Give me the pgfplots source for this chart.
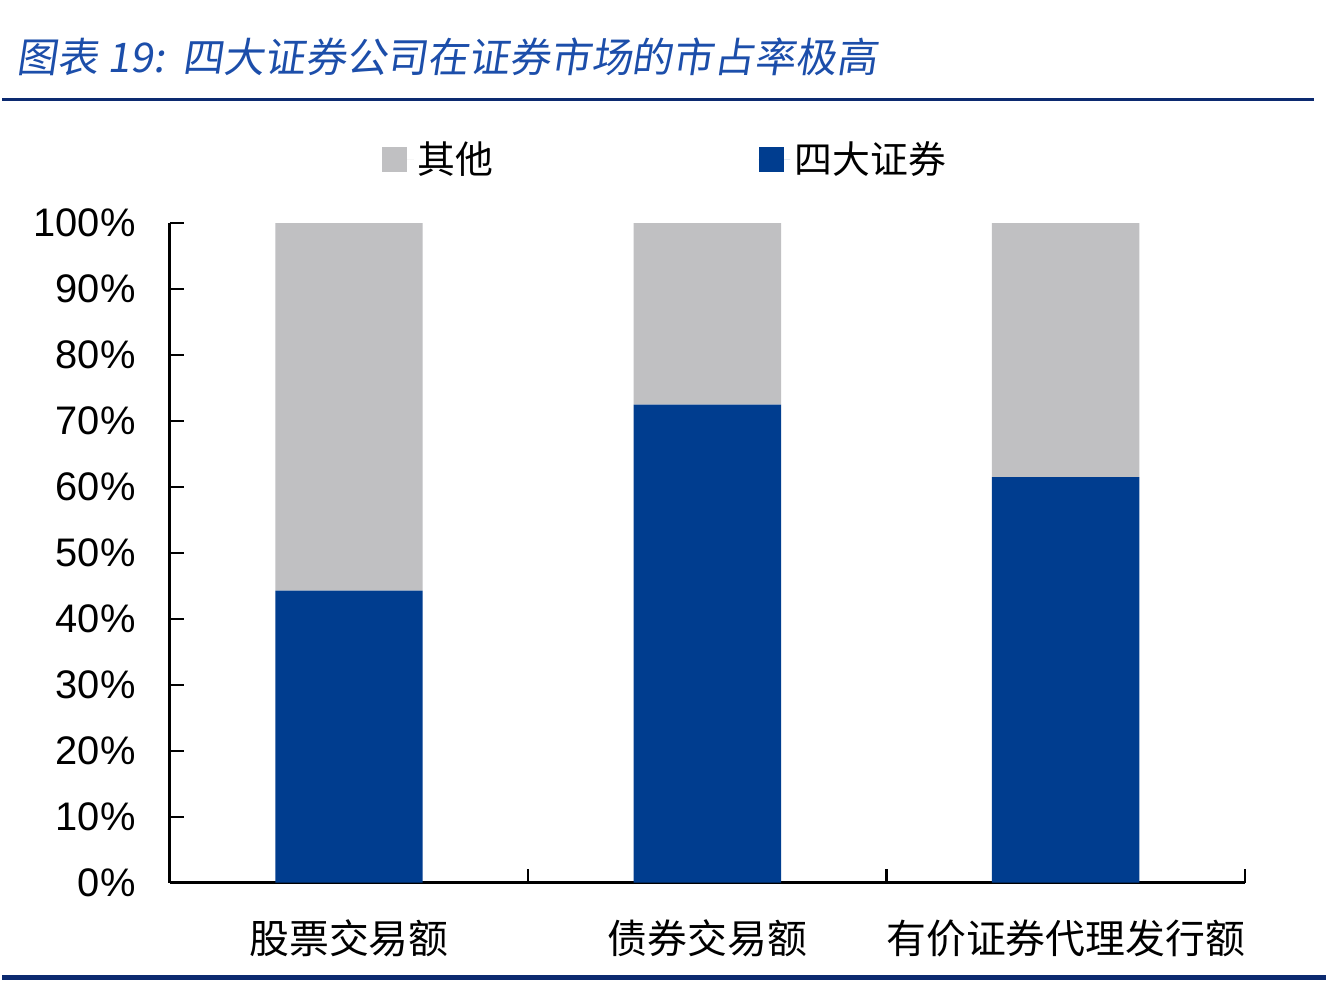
\documentclass[border=0pt]{standalone}
\usepackage{fontspec}
\setmainfont{Liberation Sans}
\newfontfamily\cjk{Noto Sans CJK SC}
\newfontfamily\cjkit[FakeSlant=0.15]{Noto Sans CJK SC}
\usepackage{pgfplots}
\pgfplotsset{compat=1.18}
\definecolor{barblue}{RGB}{0,61,143}
\definecolor{bargray}{RGB}{192,192,194}
\definecolor{titleblue}{RGB}{28,78,170}
\definecolor{lineblue}{RGB}{12,42,112}

\begin{document}
\begin{tikzpicture}[x=1pt,y=1pt]
% canvas 1328x984 px at 0.5pt per px
\path[fill=white] (0,0) rectangle (664,492);
\node[anchor=west, inner sep=0pt, text=titleblue, font=\cjkit\fontsize{20.5}{24}\selectfont] at (7,463.5) {图表 19:\ \ 四大证券公司在证券市场的市占率极高};
\draw[lineblue, line width=1.5pt] (0,442) -- (658,442);
\draw[lineblue, line width=2.5pt] (0,1.5) -- (664,1.5);

\begin{axis}[
    at={(84pt,49pt)}, anchor=south west,
    scale only axis, width=539.5pt, height=331pt,
    ybar stacked, bar width=74pt,
    xmin=-0.5, xmax=2.5, ymin=0, ymax=100,
    axis x line*=bottom, axis y line*=left,
    axis line style={line width=1.5pt, -},
    xtick={-0.5,0.5,1.5,2.5},
    x tick label as interval,
    xticklabels={股票交易额,债券交易额,有价证券代理发行额},
    ytick={0,10,...,100},
    yticklabel={\pgfmathprintnumber[assume math mode=true]{\tick}\%},
    tick align=inside,
    major tick length=7pt,
    tick style={line width=1.2pt, black},
    yticklabel style={font=\fontsize{20}{22}\selectfont, inner sep=0pt, xshift=-17pt},
    xticklabel style={font=\cjk\fontsize{20}{22}\selectfont, inner sep=0pt, yshift=-18.5pt},
    reverse legend,
    legend style={at={(0.4615,1.097)}, anchor=center, draw=none, fill=none,
        legend columns=2, font=\cjk\fontsize{19}{21}\selectfont,
        /tikz/every even column/.append style={column sep=131pt}},
    legend image code/.code={\fill[#1] (0pt,-6.25pt) rectangle (12.5pt,6.25pt);
        \path (0pt,0pt) -- (16pt,0pt);},
]
\addplot[fill=barblue, draw=none] coordinates {(0,44.3) (1,72.5) (2,61.5)};
\addplot[fill=bargray, draw=none] coordinates {(0,55.7) (1,27.5) (2,38.5)};
\legend{四大证券,其他}
\end{axis}
\end{tikzpicture}
\end{document}
